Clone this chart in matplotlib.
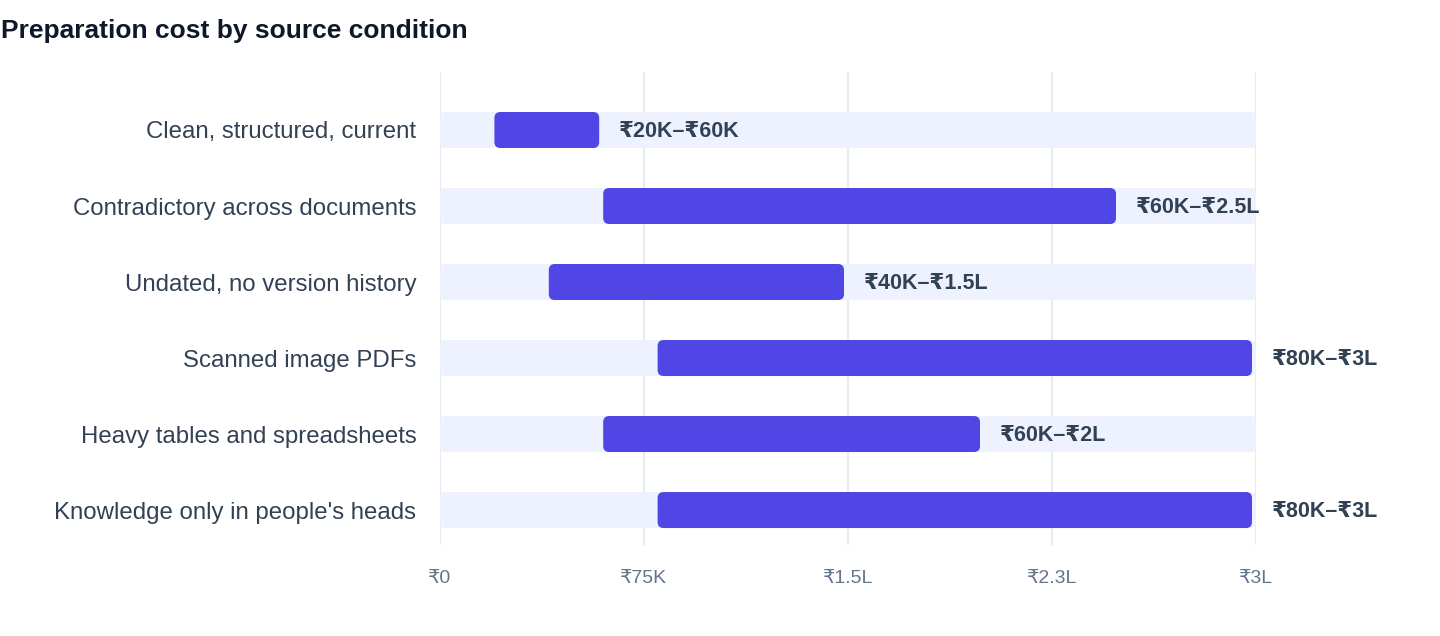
import numpy as np
import matplotlib
matplotlib.use("Agg")
import matplotlib.pyplot as plt
from matplotlib.patches import FancyBboxPatch

plt.rcParams['font.family'] = ['Liberation Sans', 'DejaVu Sans']

categories = ["Clean, structured, current", "Contradictory across documents",
              "Undated, no version history", "Scanned image PDFs",
              "Heavy tables and spreadsheets", "Knowledge only in people's heads"]
low = [20000, 60000, 40000, 80000, 60000, 80000]
high = [60000, 250000, 150000, 300000, 200000, 300000]
labels = ["₹20K–₹60K", "₹60K–₹2.5L", "₹40K–₹1.5L", "₹80K–₹3L", "₹60K–₹2L", "₹80K–₹3L"]
ticks = [0, 75000, 150000, 225000, 300000]
tick_labels = ["₹0", "₹75K", "₹1.5L", "₹2.3L", "₹3L"]
xmax = 300000

W, H = 1440, 636
fig = plt.figure(figsize=(W / 100, H / 100), dpi=100)
L, R, T, B = 440, 1256, 72, 545
ax = fig.add_axes([L / W, 1 - B / H, (R - L) / W, (B - T) / H])

n = len(categories)
y = np.arange(n)
ax.set_xlim(0, xmax)
ax.set_ylim(n - 1 + 0.46, -0.763)

# px per unit -> rounded corner sizing
px_x = (R - L) / xmax
px_y = (B - T) / (n - 1 + 0.46 + 0.763)
rad = 6 / px_x
asp = px_x / px_y
bh = 36 / px_y
gap = 4 / px_x

def rbar(x0, x1, yc, color, z):
    p = FancyBboxPatch((x0, yc - bh / 2), x1 - x0, bh,
                       boxstyle=f"round,pad=0,rounding_size={rad}",
                       mutation_aspect=asp, fc=color, ec="none", zorder=z)
    ax.add_patch(p)

for i in range(n):
    rbar(0, xmax, y[i], "#EEF2FF", 2)
    rbar(low[i], high[i] - gap, y[i], "#4F46E5", 3)
    ax.text(high[i] - gap + 20 / px_x, y[i] + 0.02, labels[i], va="center", ha="left",
            fontsize=15.5, fontweight="bold", color="#334155", zorder=4)

ax.set_yticks(y)
ax.set_yticklabels(categories, fontsize=17.3, color="#334155")
ax.set_xticks(ticks)
ax.set_xticklabels(tick_labels, fontsize=14, color="#64748B")
ax.tick_params(axis="both", length=0)
ax.tick_params(axis="y", pad=17)
ax.tick_params(axis="x", pad=18)
ax.grid(axis="x", color="#E2E8F0", lw=1.2, zorder=0)
ax.set_axisbelow(True)
for s in ax.spines.values():
    s.set_visible(False)

fig.text(1 / W, 1 - 31 / H, "Preparation cost by source condition", fontsize=19,
         fontweight="bold", color="#0F172A", va="center", ha="left")

fig.savefig("out.png", dpi=100)
